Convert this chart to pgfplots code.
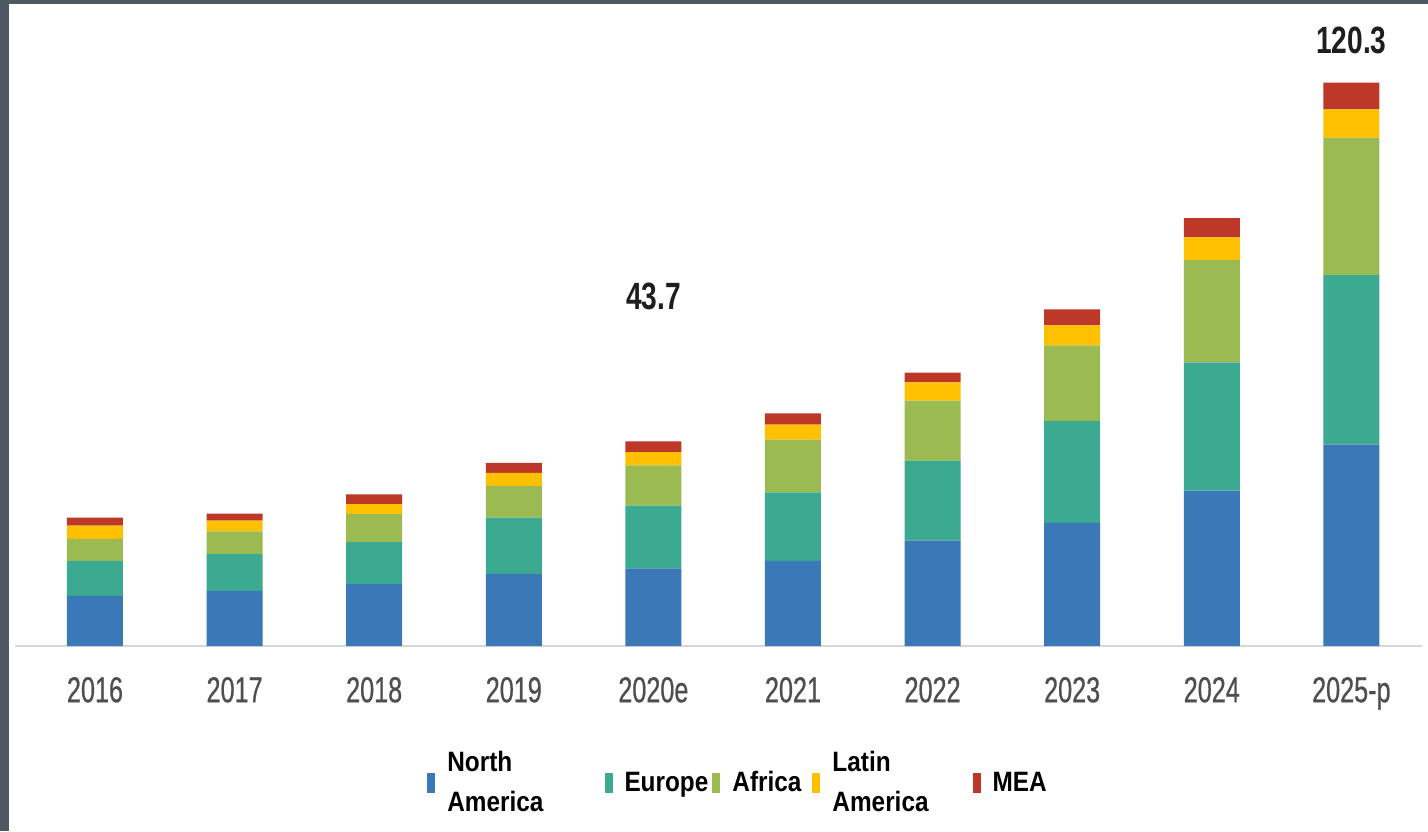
\documentclass[border=0pt]{standalone}
\usepackage{pgfplots}
\usepackage{pgfplotstable}
\pgfplotsset{compat=1.18}
\usepackage{fontspec}
\setmainfont{Liberation Sans}
\newfontfamily\tickfont[FakeStretch=0.7,FakeBold=0.6]{Liberation Sans}
\newfontfamily\labfont[FakeStretch=0.74]{Liberation Sans}
\newfontfamily\legfont[FakeStretch=0.87]{Liberation Sans}
\definecolor{cNA}{RGB}{58,120,184}
\definecolor{cEU}{RGB}{59,170,144}
\definecolor{cAF}{RGB}{155,187,82}
\definecolor{cLA}{RGB}{255,192,0}
\definecolor{cME}{RGB}{190,56,42}
\definecolor{tickgray}{RGB}{78,78,78}
\definecolor{axgray}{RGB}{215,215,215}
\definecolor{bordercol}{RGB}{78,88,98}
\pgfplotsset{myleg/.style={draw=none, legend image code/.code={\fill[##1] (0pt,-5pt) rectangle (4pt,5pt);}}}
\pgfplotstableread{
x NA EU AF LA ME
0 10.7 7.5 4.7 2.8 1.7
1 11.7 7.9 4.9 2.3 1.5
2 13.2 9.0 6.0 2.1 2.1
3 15.4 12.0 6.8 2.8 2.1
4 16.6 13.4 8.6 2.8 2.3
5 18.2 14.6 11.3 3.2 2.4
6 22.5 17.1 12.8 3.9 2.1
7 26.3 21.8 16.1 4.3 3.4
8 33.2 27.4 21.8 4.9 4.1
9 43.0 36.2 29.4 6.0 5.7
}\datatable
\begin{document}
\begin{tikzpicture}
\path[use as bounding box, fill=white] (-7.5pt,-92.5pt) rectangle (706.5pt,323pt);
\fill[bordercol] (-7.5pt,-92.5pt) rectangle (-3pt,323pt);
\fill[bordercol] (-7.5pt,321pt) rectangle (706.5pt,323pt);
\begin{axis}[
  at={(0pt,0pt)}, anchor=south west,
  scale only axis, width=703.5pt, height=313pt,
  xmin=-0.573, xmax=9.506, ymin=0, ymax=133.7,
  ybar stacked, bar width=28pt,
  axis y line=none, axis x line=bottom,
  x axis line style={-, draw=axgray, line width=1.3pt},
  xtick={0,1,2,3,4,5,6,7,8,9},
  xticklabels={2016,2017,2018,2019,2020e,2021,2022,2023,2024,2025-p},
  major tick length=0pt,
  xticklabel style={font=\tickfont\fontsize{18}{18}\selectfont, text=tickgray, yshift=-12pt},
  clip=false,
  legend columns=5,
  legend style={draw=none, fill=none, at={(axis description cs:0.5146,-0.219)}, anchor=center,
    font=\legfont\bfseries\fontsize{14}{20}\selectfont,
    cells={anchor=west, align=left, inner xsep=0pt},
    /tikz/every odd column/.append style={column sep=4pt},
    /tikz/column 2/.append style={column sep=28.5pt},
    /tikz/column 4/.append style={column sep=0pt},
    /tikz/column 6/.append style={column sep=3.5pt},
    /tikz/column 8/.append style={column sep=20pt}},
]
\addplot[fill=cNA, myleg] table[x=x, y=NA] {\datatable};
\addlegendentry{North\\America}
\addplot[fill=cEU, myleg] table[x=x, y=EU] {\datatable};
\addlegendentry{Europe}
\addplot[fill=cAF, myleg] table[x=x, y=AF] {\datatable};
\addlegendentry{Africa}
\addplot[fill=cLA, myleg] table[x=x, y=LA] {\datatable};
\addlegendentry{Latin\\America}
\addplot[fill=cME, myleg] table[x=x, y=ME] {\datatable};
\addlegendentry{MEA}
\node[font=\labfont\bfseries\fontsize{19}{19}\selectfont, text={rgb,255:red,30;green,30;blue,30}] at (axis cs:4,74.7) {43.7};
\node[font=\labfont\bfseries\fontsize{19}{19}\selectfont, text={rgb,255:red,30;green,30;blue,30}] at (axis cs:9,129.4) {120.3};
\end{axis}
\end{tikzpicture}
\end{document}
